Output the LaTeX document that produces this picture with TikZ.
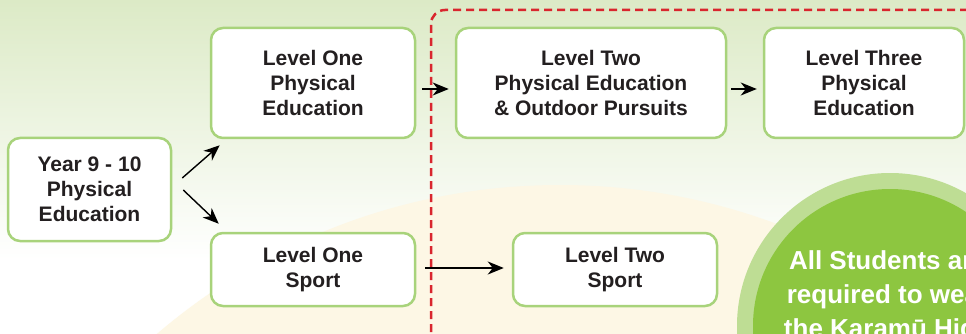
\documentclass[tikz,border=0pt]{standalone}
\usepackage{fontspec}
\setmainfont{Liberation Sans}
\usetikzlibrary{arrows.meta}
\definecolor{boxgreen}{HTML}{A8D37B}
\definecolor{bggreen}{HTML}{DCEAC6}
\definecolor{cream}{HTML}{FDF7E5}
\definecolor{ringgreen}{HTML}{BEDD94}
\definecolor{dotgreen}{HTML}{8DC640}
\definecolor{pathred}{HTML}{D9262E}
\definecolor{textgray}{HTML}{231F20}

\begin{document}
\begin{tikzpicture}
[
    x=1pt, y=-1pt,
    course/.style={draw=boxgreen,line width=2.5pt,rounded corners=12pt,fill=white,
      text=textgray,align=center,inner sep=0pt,minimum width=204pt,
      font=\fontsize{21}{25}\selectfont\bfseries},
    next arrow/.style={draw=black,line width=1.4pt,-{Stealth[length=16pt,width=13pt,inset=5pt]}},
    senior line/.style={draw=pathred,line width=2.5pt,dash pattern=on 8pt off 5pt,rounded corners=14pt}
  ]

  \useasboundingbox (0,0) rectangle (966,334);
  \clip (0,0) rectangle (966,334);
  \fill[white] (0,0) rectangle (966,334);
  \shade[top color=bggreen,bottom color=white] (0,0) rectangle (966,260);
  \fill[cream] (560,805) circle (620);

  % uniform badge
  \fill[ringgreen] (890,326) circle (153);
  \fill[dotgreen] (890,326) circle (137);
  \node[text=white,align=center,inner sep=0pt,anchor=north,
    font=\fontsize{26}{34}\selectfont\bfseries] (uniform) at (888,250)
    {All Students are\\required to wear\\the Karamū High};

  \draw[senior line] (431,345) -- (431,10) -- (990,10);

  \node[course,minimum width=163pt,minimum height=103pt] (year) at (89.5,189.5) {Year 9 - 10\\Physical\\Education};
  \node[course,minimum height=110pt] (l1pe) at (313,83) {Level One\\Physical\\Education};
  \node[course,minimum height=73pt] (l1sport) at (313,269.5) {Level One\\Sport};
  \node[course,minimum width=270pt,minimum height=110pt] (l2pe) at (591,83) {Level Two\\Physical Education\\\& Outdoor Pursuits};
  \node[course,minimum width=200pt,minimum height=110pt] (l3pe) at (864,83) {Level Three\\Physical\\Education};
  \node[course,minimum height=73pt] (l2sport) at (615,269.5) {Level Two\\Sport};

  \draw[next arrow] ([shift={(10,-11.5)}]year.east) -- ([shift={(10,6)}]l1pe.south west);
  \draw[next arrow] ([shift={(11,0.5)}]year.east) -- ([shift={(9,-8)}]l1sport.north west);
  \draw[next arrow] ([shift={(6,6)}]l1pe.east) -- ([shift={(-6,6)}]l2pe.west);
  \draw[next arrow] ([shift={(4,6)}]l2pe.east) -- ([shift={(-6,6)}]l3pe.west);
  \draw[next arrow] ([shift={(9,-1.5)}]l1sport.east) -- ([shift={(-8,-1.5)}]l2sport.west);
\end{tikzpicture}
\end{document}
